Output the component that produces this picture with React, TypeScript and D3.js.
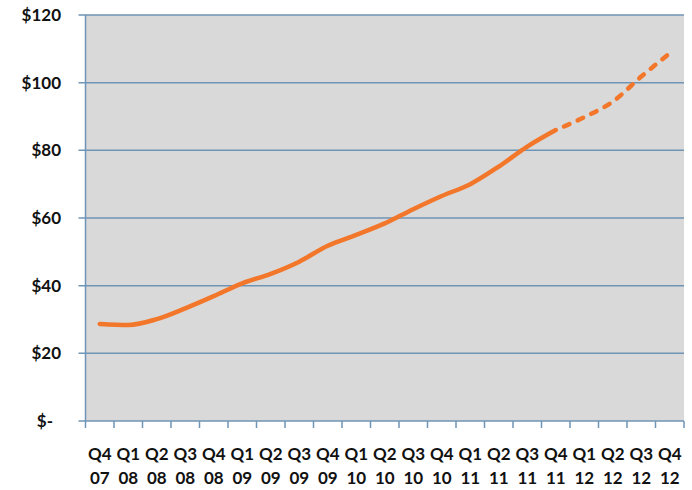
import React from "react";
import * as d3 from "d3";

const categories = [
  "Q4 07", "Q1 08", "Q2 08", "Q3 08", "Q4 08", "Q1 09", "Q2 09", "Q3 09", "Q4 09",
  "Q1 10", "Q2 10", "Q3 10", "Q4 10", "Q1 11", "Q2 11", "Q3 11", "Q4 11",
  "Q1 12", "Q2 12", "Q3 12", "Q4 12",
];

// actual values (solid line)
const actualValues: (number | null)[] = [
  28.7, 28.4, 30.1, 33.3, 36.9, 40.7, 43.5, 47.1, 51.8, 55.0, 58.4, 62.6, 66.5,
  70.0, 75.2, 81.1, 86.0, null, null, null, null,
];

// projected values (dashed line)
const projectedValues: (number | null)[] = [
  null, null, null, null, null, null, null, null, null, null, null, null, null,
  null, null, null, 86.0, 89.8, 94.4, 101.8, 108.7,
];

const yTicks = [0, 20, 40, 60, 80, 100, 120];

const W = 692;
const H = 490;
const M = { left: 85.5, right: 684, top: 15, bottom: 421 };

const FONT = "Lato, 'Open Sans', sans-serif";
const GRID = "#6f95b6";
const ORANGE = "#f3772a";

export default function App() {
  const x = d3.scaleBand<string>().domain(categories).range([M.left, M.right]).padding(0);
  const y = d3.scaleLinear().domain([0, 120]).range([M.bottom, M.top]);

  const line = d3
    .line<number | null>()
    .defined((d) => d !== null)
    .x((_, i) => (x(categories[i]) as number) + x.bandwidth() / 2)
    .y((d) => y(d as number))
    .curve(d3.curveMonotoneX);

  const fmt = (v: number) => (v === 0 ? "$-" : `$${v}`);

  return (
    <div style={{ position: "fixed", left: 0, top: 0 }}>
      <svg width={W} height={H} style={{ display: "block", background: "#fff" }}>
        <rect x={M.left} y={M.top} width={M.right - M.left} height={M.bottom - M.top} fill="#d9d9d9" />
        {yTicks.map((t) => (
          <g key={t}>
            <line x1={M.left - 7} x2={M.right} y1={y(t)} y2={y(t)} stroke={GRID} strokeWidth={1.5} />
            <text
              x={t === 0 ? 53 : 61}
              y={y(t) + 6}
              textAnchor="end"
              fontFamily={FONT}
              fontWeight={700}
              fontSize={17}
              fill="#111"
            >
              {fmt(t)}
            </text>
          </g>
        ))}
        <line x1={M.left} x2={M.left} y1={M.top} y2={M.bottom + 7} stroke={GRID} strokeWidth={1.5} />
        {categories.map((c) => {
          const bx = x(c) as number;
          const [q, yr] = c.split(" ");
          const cx = bx + x.bandwidth() / 2;
          return (
            <g key={c}>
              <line x1={bx + x.bandwidth()} x2={bx + x.bandwidth()} y1={M.bottom} y2={M.bottom + 7} stroke={GRID} strokeWidth={1.5} />
              <text x={cx} y={460} textAnchor="middle" fontFamily={FONT} fontWeight={700} fontSize={17} fill="#111">
                {q}
              </text>
              <text x={cx} y={484} textAnchor="middle" fontFamily={FONT} fontWeight={700} fontSize={17} fill="#111">
                {yr}
              </text>
            </g>
          );
        })}
        <path d={line(actualValues) || ""} fill="none" stroke={ORANGE} strokeWidth={4.5} strokeLinecap="round" strokeLinejoin="round" />
        <path
          d={line(projectedValues) || ""}
          fill="none"
          stroke={ORANGE}
          strokeWidth={4.5}
          strokeLinecap="round"
          strokeDasharray="6 9"
          strokeDashoffset={-9}
        />
      </svg>
    </div>
  );
}
